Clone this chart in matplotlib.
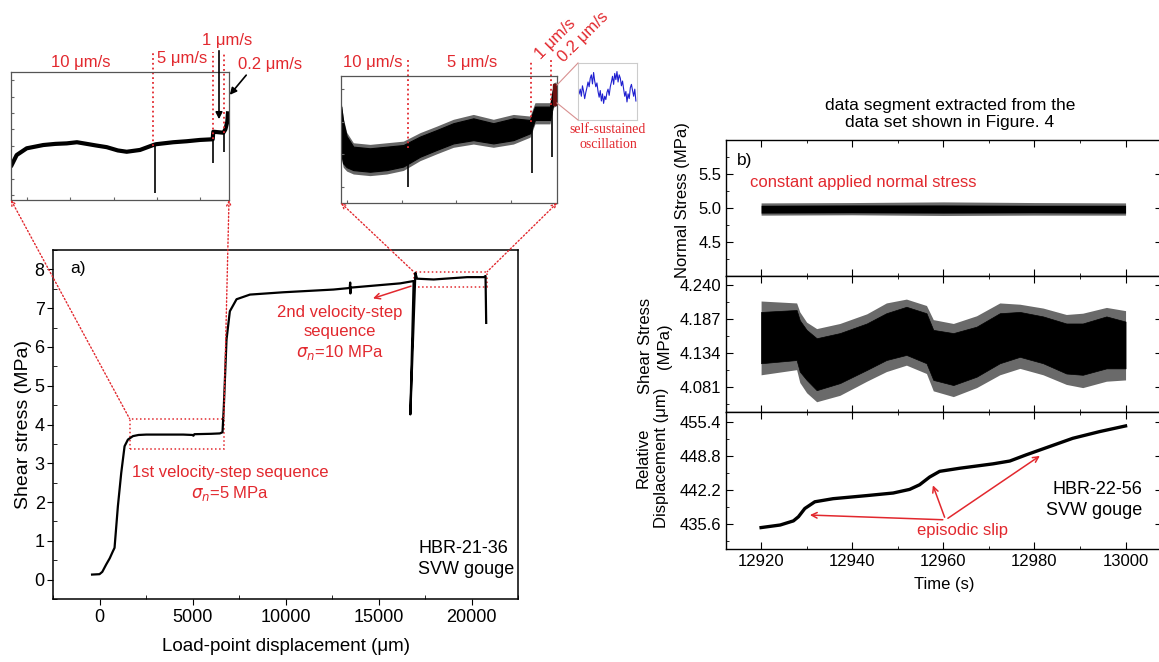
import matplotlib
matplotlib.use("Agg")
import numpy as np
import matplotlib.pyplot as plt
from matplotlib.patches import Rectangle, ConnectionPatch
from matplotlib.ticker import MultipleLocator, FixedLocator

plt.rcParams["font.family"] = ["Liberation Sans", "DejaVu Sans"]

RED = "#e2282e"

# ---------------- panel a) data ----------------
disp_x = [-400, 0, 150, 359, 550, 719, 809, 988, 1168, 1348, 1527, 1797, 2100, 2516,
          3500, 4500, 5000, 5050, 5100, 6000, 6469, 6613, 6685, 6829, 7008, 7368, 8087,
          9882, 12578, 13450, 13478, 13490, 13510, 16173, 16890, 16712, 16982, 17072,
          17969, 19766, 20664, 20754, 20790]
shear_y = [0.13, 0.14, 0.2, 0.39, 0.55, 0.73, 0.82, 1.89, 2.75, 3.44, 3.61, 3.70, 3.73,
           3.74, 3.74, 3.74, 3.73, 3.71, 3.75, 3.76, 3.77, 3.80, 4.47, 6.19, 6.92, 7.23,
           7.35, 7.41, 7.48, 7.52, 7.66, 7.38, 7.53, 7.64, 7.70, 4.26, 7.91, 7.76, 7.74,
           7.80, 7.80, 7.83, 6.62]

box1 = [1617, 6685, 3.37, 4.15]
box2 = [16890, 20843, 7.55, 7.94]

# inset 1 (first velocity-step sequence)
in1_x = [1633, 1749, 1982, 2368, 2650, 2912, 3150, 3377, 3600, 3842, 4100, 4307, 4616,
         4925, 4990, 5390, 5700, 6011, 6306, 6320, 6553, 6600, 6646, 6660]
in1_y = [3.583, 3.644, 3.685, 3.705, 3.712, 3.715, 3.722, 3.712, 3.702, 3.692, 3.672,
         3.664, 3.675, 3.705, 3.710, 3.722, 3.728, 3.736, 3.74, 3.786, 3.78, 3.80,
         3.847, 3.898]
in1_spk_x = [4964, 6306, 6577]
in1_spk_lo = [3.411, 3.594, 3.664]
in1_spk_hi = [3.705, 3.74, 3.78]
in1_steps = [4918, 6313, 6569]
in1_step_y = [3.70, 3.74, 3.78]

# inset 2 (second velocity-step sequence)
in2_x = [16895, 16930, 16994, 17116, 17421, 17726, 18031, 18336, 18641, 18946, 19312,
         19678, 20044, 20349, 20440, 20715, 20776, 20825]
in2_hi = [7.846, 7.80, 7.755, 7.723, 7.718, 7.723, 7.728, 7.754, 7.774, 7.795, 7.810,
          7.795, 7.810, 7.805, 7.846, 7.846, 7.907, 7.91]
in2_lo = [7.70, 7.672, 7.66, 7.651, 7.646, 7.651, 7.662, 7.692, 7.713, 7.733, 7.743,
          7.733, 7.743, 7.764, 7.805, 7.805, 7.856, 7.86]
in2_spk_x = [16898, 18110, 20392, 20757]
in2_spk_lo = [7.641, 7.60, 7.641, 7.692]
in2_spk_hi = [7.75, 7.70, 7.78, 7.83]
in2_steps = [18110, 20370, 20730]
in2_step_y = [7.72, 7.80, 7.85]

osc_sig = [0.45, 0.55, 0.40, 0.62, 0.50, 0.35, 0.48, 0.58, 0.70, 0.60, 0.78, 0.85, 0.66,
           0.90, 0.72, 0.60, 0.68, 0.50, 0.38, 0.52, 0.30, 0.45, 0.25, 0.40, 0.33, 0.48,
           0.55, 0.42, 0.60, 0.70, 0.82, 0.65, 0.88, 0.75, 0.92, 0.70, 0.85, 0.78, 0.62,
           0.72, 0.55, 0.40, 0.50, 0.28, 0.45, 0.35, 0.58, 0.65, 0.52, 0.40, 0.55, 0.30]

# ---------------- panel b) data ----------------
ns_t = [12920, 12940, 12960, 12980, 13000]
ns_hi = [5.04, 5.045, 5.045, 5.04, 5.04]
ns_lo = [4.925, 4.93, 4.925, 4.93, 4.925]
ns_spk_hi = [5.075, 5.08, 5.09, 5.08, 5.075]
ns_spk_lo = [4.895, 4.9, 4.89, 4.895, 4.895]

ss_t = [12920, 12927.8, 12928.5, 12930, 12932.2, 12937.3, 12943.2, 12947.5, 12951.9,
        12956.3, 12957.8, 12962.2, 12967.3, 12972.4, 12976.8, 12981.9, 12987, 12990.6,
        12995.8, 13000]
ss_hi = [4.198, 4.201, 4.185, 4.170, 4.157, 4.165, 4.180, 4.196, 4.206, 4.196, 4.170,
         4.165, 4.175, 4.196, 4.198, 4.191, 4.180, 4.180, 4.191, 4.183]
ss_lo = [4.118, 4.123, 4.105, 4.092, 4.076, 4.087, 4.1075, 4.123, 4.131, 4.118, 4.092,
         4.084, 4.097, 4.118, 4.128, 4.118, 4.102, 4.100, 4.110, 4.110]
ss_spk_hi = [4.215, 4.212, 4.198, 4.182, 4.172, 4.180, 4.195, 4.212, 4.218, 4.208, 4.186,
             4.180, 4.192, 4.212, 4.210, 4.204, 4.194, 4.196, 4.205, 4.200]
ss_spk_lo = [4.100, 4.108, 4.088, 4.072, 4.058, 4.068, 4.090, 4.105, 4.115, 4.102, 4.075,
             4.066, 4.080, 4.100, 4.110, 4.100, 4.085, 4.080, 4.090, 4.092]

rd_t = [12920, 12924.2, 12927.1, 12928.2, 12929.6, 12931.8, 12935.8, 12943.2, 12949,
        12952.6, 12954.8, 12957, 12959.2, 12963.6, 12970.9, 12974.6, 12978.2, 12983.3,
        12988.4, 12994.3, 13000]
rd_v = [434.9, 435.4, 436.2, 437.0, 438.6, 439.9, 440.5, 441.1, 441.6, 442.3, 443.2,
        444.7, 445.8, 446.4, 447.25, 447.8, 449.0, 450.6, 452.2, 453.5, 454.6]
slip_t = [12930.1, 12957.5, 12981.7]
slip_v = [437.35, 443.6, 449.1]

W, H = 1159, 662


def frame(x0, y0, x1, y1):
    return [x0 / W, 1 - y1 / H, (x1 - x0) / W, (y1 - y0) / H]


def fp(px, py):
    return (px / W, 1 - py / H)


fig = plt.figure(figsize=(W / 100, H / 100), dpi=100)

# ---------------- main panel a) ----------------
ax = fig.add_axes(frame(53, 250, 518, 599))
ax.plot(disp_x, shear_y, color="black", lw=1.6)
ax.set_xlim(-2500, 22500)
ax.set_ylim(-0.5, 8.5)
ax.xaxis.set_major_locator(MultipleLocator(5000))
ax.xaxis.set_minor_locator(MultipleLocator(2500))
ax.yaxis.set_major_locator(MultipleLocator(1))
ax.yaxis.set_minor_locator(MultipleLocator(0.5))
ax.tick_params(which="major", direction="out", length=4, labelsize=13)
ax.tick_params(axis="y", which="major", pad=2)
ax.tick_params(which="minor", direction="in", length=3)
ax.set_xlabel("Load-point displacement (\u03bcm)", fontsize=13.5, labelpad=8)
ax.set_ylabel("Shear stress (MPa)", fontsize=14, labelpad=2)
for s in ax.spines.values():
    s.set_linewidth(1.1)

for b in (box1, box2):
    ax.add_patch(Rectangle((b[0], b[2]), b[1] - b[0], b[3] - b[2], fill=False,
                           ec=RED, ls=":", lw=1.1))

ax.text(0.037, 0.948, "a)", transform=ax.transAxes, fontsize=12.5, va="center")
ax.text(12940, 6.65, "2nd velocity-step\nsequence", color=RED, fontsize=12,
        ha="center", va="center", linespacing=1.3)
ax.text(12940, 5.85, r"$\sigma_n$=10 MPa", color=RED, fontsize=12, ha="center", va="center")
ax.annotate("", xy=(14560, 7.23), xytext=(16890, 7.59),
            arrowprops=dict(arrowstyle="->", color=RED, lw=1.1))
ax.text(7007, 2.77, "1st velocity-step sequence", color=RED, fontsize=12,
        ha="center", va="center")
ax.text(7007, 2.22, r"$\sigma_n$=5 MPa", color=RED, fontsize=12, ha="center", va="center")
ax.text(17150, 0.53, "HBR-21-36\nSVW gouge", fontsize=13, ha="left", va="center",
        linespacing=1.35)

# ---------------- inset 1 ----------------
ax1 = fig.add_axes(frame(11, 72, 229, 200))
ax1.plot(in1_x, in1_y, color="black", lw=3.0, solid_joinstyle="round")
ax1.vlines(in1_spk_x, in1_spk_lo, in1_spk_hi, color="black", lw=1.2)
ax1.vlines(in1_steps, in1_step_y, 4.27, color=RED, ls=":", lw=1.3, clip_on=False)
ax1.set_xlim(box1[0], box1[1])
ax1.set_ylim(box1[2], box1[3])

# ---------------- inset 2 ----------------
ax2 = fig.add_axes(frame(341, 76, 557, 203))
ax2.fill_between(in2_x, np.array(in2_lo) - 0.012, np.array(in2_hi) + 0.012,
                 color="#666666", lw=0)
ax2.fill_between(in2_x, in2_lo, in2_hi, color="black", lw=0.8)
ax2.vlines(in2_spk_x, in2_spk_lo, in2_spk_hi, color="black", lw=1.2)
ax2.vlines(in2_steps, in2_step_y, 7.99, color=RED, ls=":", lw=1.3, clip_on=False)
ax2.add_patch(Rectangle((20765, 7.85), 60, 0.065, color="#6a1010", zorder=3))
ax2.set_xlim(box2[0], box2[1])
ax2.set_ylim(box2[2], box2[3])

for a in (ax1, ax2):
    a.tick_params(which="both", direction="in", length=2.5, labelleft=False,
                  labelbottom=False, color="#666666")
    a.xaxis.set_major_locator(MultipleLocator(1000))
    a.yaxis.set_major_locator(MultipleLocator(0.1))
    for s in a.spines.values():
        s.set_color("#555555")
        s.set_linewidth(0.9)

# oscillation inset
ax3 = fig.add_axes(frame(578, 63, 637, 120))
ax3.plot(range(len(osc_sig)), osc_sig, color="#2020d0", lw=0.8)
ax3.set_xlim(-1, len(osc_sig))
ax3.set_ylim(-0.1, 1.1)
ax3.set_xticks([])
ax3.set_yticks([])
for s in ax3.spines.values():
    s.set_color("#cccccc")
for p0, p1 in [((557, 85), (578, 63)), ((557, 103), (578, 120))]:
    fig.add_artist(plt.Line2D([fp(*p0)[0], fp(*p1)[0]], [fp(*p0)[1], fp(*p1)[1]],
                              color="#d89090", lw=0.8))
fig.text(*fp(608, 137), "self-sustained\noscillation", color=RED, fontsize=10,
         family=["Liberation Serif", "DejaVu Serif"], ha="center", va="center",
         linespacing=1.2)

# connectors inset -> box
for axi, b in ((ax1, box1), (ax2, box2)):
    for cx, bx in ((0, b[0]), (1, b[1])):
        con = ConnectionPatch(xyA=(cx, 0), coordsA=axi.transAxes, xyB=(bx, b[3]),
                              coordsB=ax.transData, arrowstyle="<-", color=RED,
                              ls=":", lw=1.0, mutation_scale=8)
        fig.add_artist(con)

# velocity labels
vel_font = dict(color=RED, fontsize=12, ha="center", va="center")
fig.text(*fp(81, 62), "10 \u03bcm/s", **vel_font)
fig.text(*fp(182, 59), "5 \u03bcm/s", **vel_font)
fig.text(*fp(227, 40), "1 \u03bcm/s", **vel_font)
fig.text(*fp(270, 64), "0.2 \u03bcm/s", **vel_font)
fig.text(*fp(373, 63), "10 \u03bcm/s", **vel_font)
fig.text(*fp(472, 63), "5 \u03bcm/s", **vel_font)
fig.text(*fp(555, 39), "1 \u03bcm/s", rotation=45, **vel_font)
fig.text(*fp(583, 37), "0.2 \u03bcm/s", rotation=45, **vel_font)
ax1.annotate("", xy=fp(219, 122), xytext=fp(219, 48), xycoords="figure fraction",
             textcoords="figure fraction",
             arrowprops=dict(arrowstyle="-|>", color="black", lw=1.2, mutation_scale=10))
ax1.annotate("", xy=fp(228, 97), xytext=fp(248, 73), xycoords="figure fraction",
             textcoords="figure fraction",
             arrowprops=dict(arrowstyle="-|>", color="black", lw=1.2, mutation_scale=10))

# ---------------- panel b) ----------------
bt = fig.add_axes(frame(726, 140, 1162, 276))
bm = fig.add_axes(frame(726, 276, 1162, 412), sharex=bt)
bb = fig.add_axes(frame(726, 412, 1162, 549), sharex=bt)

bt.fill_between(ns_t, ns_spk_lo, ns_spk_hi, color="#6a6a6a", lw=0)
bt.fill_between(ns_t, ns_lo, ns_hi, color="black", lw=0)
bt.set_ylim(4.0, 6.0)
bt.yaxis.set_major_locator(FixedLocator([4.5, 5.0, 5.5]))
bt.yaxis.set_minor_locator(MultipleLocator(0.25))

bm.fill_between(ss_t, ss_spk_lo, ss_spk_hi, color="#6a6a6a", lw=0)
bm.fill_between(ss_t, ss_lo, ss_hi, color="black", lw=0.5)
bm.set_ylim(4.042, 4.254)
bm.yaxis.set_major_locator(FixedLocator([4.081, 4.134, 4.187, 4.240]))
bm.yaxis.set_minor_locator(FixedLocator([4.0545, 4.1075, 4.1605, 4.2135]))
bm.set_yticklabels(["4.081", "4.134", "4.187", "4.240"])

bb.plot(rd_t, rd_v, color="black", lw=2.4)
bb.set_ylim(430.75, 457.3)
bb.yaxis.set_major_locator(FixedLocator([435.6, 442.2, 448.8, 455.4]))
bb.yaxis.set_minor_locator(FixedLocator([432.3, 438.9, 445.5, 452.1]))
bb.set_yticklabels(["435.6", "442.2", "448.8", "455.4"])

bt.set_xlim(12912.3, 13008)
bt.xaxis.set_major_locator(MultipleLocator(20))
bt.xaxis.set_minor_locator(MultipleLocator(10))
for a in (bt, bm, bb):
    a.tick_params(which="both", direction="in", top=True, right=True, labelsize=12)
    a.tick_params(which="major", length=5)
    a.tick_params(which="minor", length=2.5)
    for s in a.spines.values():
        s.set_linewidth(1.0)
for a in (bt, bm):
    a.tick_params(labelbottom=False)
bb.set_xlabel("Time (s)", fontsize=12, labelpad=6)

bt.text(0.025, 0.85, "b)", transform=bt.transAxes, fontsize=12.5, va="center")
bt.text(0.055, 0.69, "constant applied normal stress", transform=bt.transAxes,
        color=RED, fontsize=12, va="center")
fig.text(*fp(682, 200), "Normal Stress (MPa)", rotation=90, fontsize=12,
         ha="center", va="center")
fig.text(*fp(655, 346), "Shear Stress\n(MPa)", rotation=90, fontsize=12,
         ha="center", va="center", multialignment="center", linespacing=1.3)
fig.text(*fp(652, 458), "Relative\nDisplacement (\u03bcm)", rotation=90, fontsize=12,
         ha="center", va="center", multialignment="center", linespacing=1.3)
fig.text(*fp(950, 114), "data segment extracted from the\ndata set shown in Figure. 4",
         fontsize=12.5, ha="center", va="center", linespacing=1.15)

for st, sv in zip(slip_t, slip_v):
    bb.annotate("", xy=(st, sv), xytext=(12960.5, 436.4),
                arrowprops=dict(arrowstyle="->", color=RED, lw=1.1))
bb.text(12964.3, 434.4, "episodic slip", color=RED, fontsize=12, ha="center", va="center")
bb.text(0.955, 0.36, "HBR-22-56\nSVW gouge", transform=bb.transAxes, fontsize=13,
        ha="right", va="center", multialignment="right", linespacing=1.3)

fig.savefig("out.png", dpi=100)
